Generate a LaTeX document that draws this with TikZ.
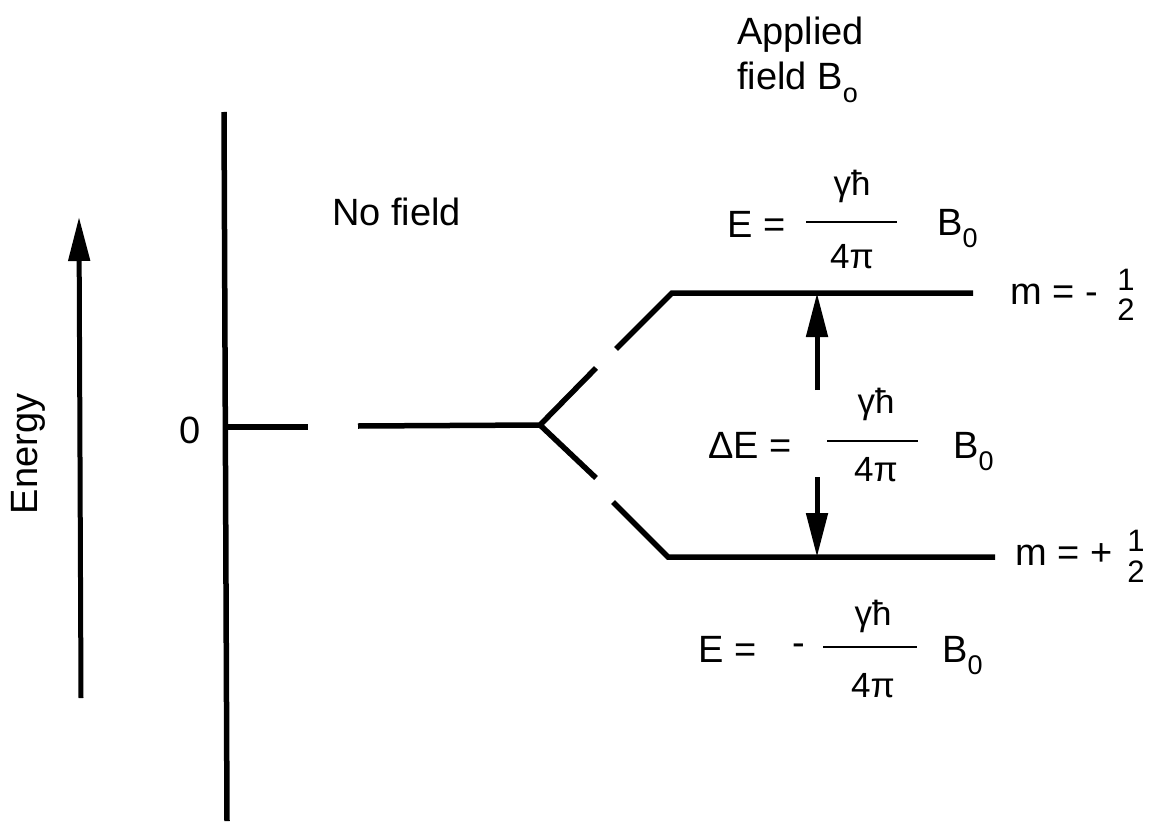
\documentclass[tikz,border=0pt]{standalone}
\usepackage{fontspec}
\setmainfont{Liberation Sans}
\usetikzlibrary{arrows.meta}
\newcommand\lowidx[1]{\raisebox{-0.32em}{\fontsize{27}{27}\selectfont #1}}
\tikzset{
  lbl/.style={font=\fontsize{38}{44}\selectfont, inner sep=0pt},
  frac/.style={font=\fontsize{35}{40}\selectfont, inner sep=0pt},
  digit/.style={font=\fontsize{31}{31}\selectfont, inner sep=0pt, anchor=base},
  level/.style={line width=5.5pt},
  axisline/.style={line width=5.5pt},
  fbar/.style={line width=2.2pt},
  arr/.style={line width=5pt, -{Triangle[length=44pt,width=21pt]}}
}
\begin{document}
\begin{tikzpicture}[x=1pt,y=-1pt]
\useasboundingbox (0,0) rectangle (1155,821);
% coordinates
\coordinate (axtop) at (224,112);
\coordinate (axbot) at (227,821);
\coordinate (ebot) at (81,698);
\coordinate (etop) at (79,217);
\coordinate (z0) at (224,427);
\coordinate (z1) at (308,427);
\coordinate (z2) at (358,426);
\coordinate (br) at (540,425);
\coordinate (u1) at (596,368);
\coordinate (u2) at (616,349);
\coordinate (u3) at (672,293);
\coordinate (u4) at (973,293);
\coordinate (d1) at (596,478);
\coordinate (d2) at (613,502);
\coordinate (d3) at (668,557);
\coordinate (d4) at (995,557);
\coordinate (aus) at (817,390);
\coordinate (aut) at (817,293);
\coordinate (ads) at (817,477);
\coordinate (adt) at (817,557);
% axis and energy arrow
\draw[axisline] (axtop) -- (axbot);
\draw[arr] (ebot) -- (etop);
% levels
\draw[level] (z0) -- (z1);
\draw[level, line join=miter] (z2) -- (br) -- (u1);
\draw[level] (br) -- (d1);
\draw[level] (u2) -- (u3) -- (u4);
\draw[level] (d2) -- (d3) -- (d4);
% delta E arrows
\draw[arr] (aus) -- (aut);
\draw[arr] (ads) -- (adt);
% labels
\node[lbl, rotate=90] (energy) at (28,454) {Energy};
\node[lbl] (zero) at (190,430) {0};
\node[lbl, anchor=base west] (nofield) at (332,225) {No field};
\node[lbl, anchor=base west] (applied) at (737,45) {Applied};
\node[lbl, anchor=base west] (field) at (737,90) {field B\lowidx{o}};
% top formula
\node[lbl, anchor=base west] (etopl) at (727,237) {E =};
\node[frac, anchor=base] (gtop) at (852,195) {γħ};
\node[frac, anchor=base] (ptop) at (852,268) {4π};
\draw[fbar] (806,222) -- (897,222);
\node[lbl, anchor=base west] (btop) at (937,235) {B\lowidx{0}};
% delta E formula
\node[lbl, anchor=base west] (del) at (708,458) {ΔE =};
\node[frac, anchor=base] (gmid) at (876,413) {γħ};
\node[frac, anchor=base] (pmid) at (876,481) {4π};
\draw[fbar] (827,441) -- (918,441);
\node[lbl, anchor=base west] (bmid) at (953,458) {B\lowidx{0}};
% bottom formula
\node[lbl, anchor=base west] (ebotl) at (698,662) {E =};
\node[lbl] (minus) at (799,650) {-};
\node[frac, anchor=base] (gbot) at (873,625) {γħ};
\node[frac, anchor=base] (pbot) at (873,697) {4π};
\draw[fbar] (823,647) -- (917,647);
\node[lbl, anchor=base west] (bbot) at (942,662) {B\lowidx{0}};
% m labels
\node[lbl, anchor=base west] (mm) at (1010,304) {m = -};
\node[digit] (mm1) at (1126,290) {1};
\node[digit] (mm2) at (1126,320) {2};
\node[lbl, anchor=base west] (mp) at (1015,565) {m = +};
\node[digit] (mp1) at (1136,551) {1};
\node[digit] (mp2) at (1136,582) {2};
\end{tikzpicture}
\end{document}
